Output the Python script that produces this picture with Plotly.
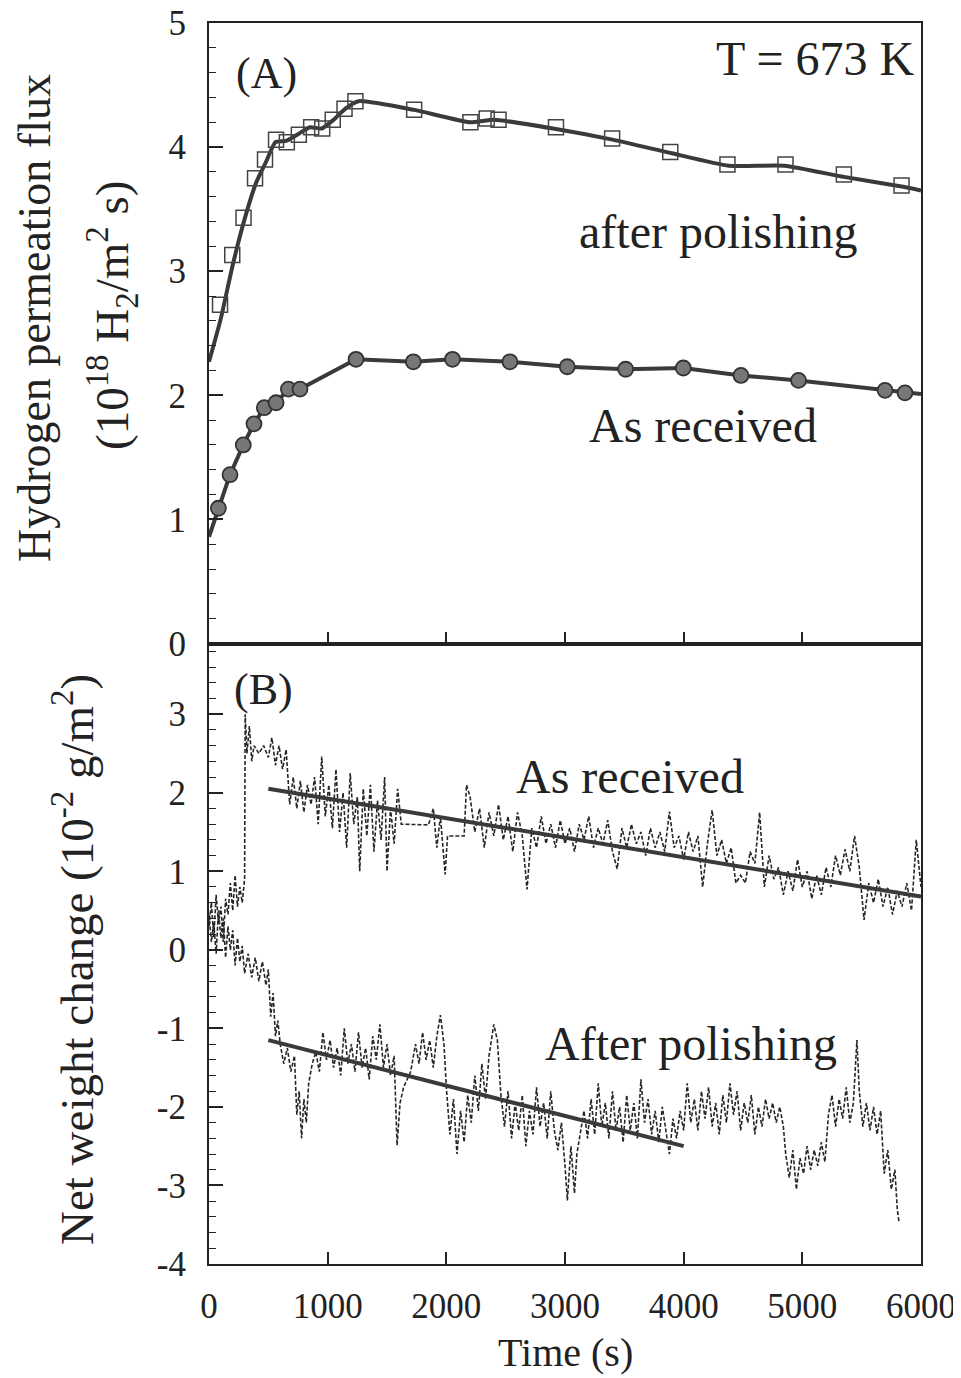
import plotly.graph_objects as go

# ---------------- Panel (A): hydrogen permeation flux ----------------
# after polishing (open squares)
pol_t = [93, 196, 291, 388, 472, 565, 656, 757, 861, 954, 1043, 1142, 1234,
         1729, 2203, 2340, 2440, 2924, 3397, 3887, 4369, 4858, 5350, 5836]
pol_v = [2.73, 3.13, 3.43, 3.75, 3.90, 4.06, 4.04, 4.10, 4.16, 4.15, 4.22, 4.31, 4.37,
         4.30, 4.20, 4.23, 4.22, 4.16, 4.07, 3.96, 3.86, 3.86, 3.78, 3.69]
# fitted curve through the squares
pol_fit_t = [0, 100, 200, 300, 400, 480, 560, 650, 760, 850, 950, 1050, 1150, 1260,
             1730, 2200, 2400, 2900, 3400, 3900, 4380, 4850, 5350, 5850, 6000]
pol_fit_v = [2.27, 2.62, 3.05, 3.42, 3.72, 3.88, 4.04, 4.05, 4.11, 4.16, 4.15, 4.22, 4.31, 4.37,
             4.30, 4.20, 4.22, 4.15, 4.06, 3.95, 3.85, 3.85, 3.76, 3.68, 3.65]

# as received (filled circles)
rec_t = [79, 177, 289, 379, 466, 565, 669, 767, 1239, 1722, 2052,
         2536, 3019, 3511, 3997, 4483, 4968, 5697, 5865]
rec_v = [1.09, 1.36, 1.60, 1.77, 1.90, 1.94, 2.05, 2.05, 2.29, 2.27, 2.29,
         2.27, 2.23, 2.21, 2.22, 2.16, 2.12, 2.04, 2.02]
rec_fit_t = [0, 79, 177, 289, 379, 466, 565, 669, 767, 1239, 1722, 2052,
             2536, 3019, 3511, 3997, 4483, 4968, 5697, 5865, 6000]
rec_fit_v = [0.86, 1.09, 1.36, 1.60, 1.77, 1.90, 1.94, 2.05, 2.05, 2.29, 2.27, 2.29,
             2.27, 2.23, 2.21, 2.22, 2.16, 2.12, 2.04, 2.02, 2.01]

# ---------------- Panel (B): net weight change ----------------
# As received raw signal
wr_t = [0, 20, 40, 60, 80, 100, 120, 140, 160, 180,
        200, 220, 240, 260, 280, 300, 305, 320, 340, 360,
        380, 420, 460, 500, 530, 560, 590, 620, 650, 680,
        710, 740, 770, 800, 830, 860, 890, 920, 950, 980,
        1010, 1040, 1070, 1100, 1130, 1160, 1190, 1220, 1250, 1270,
        1300, 1330, 1360, 1390, 1420, 1450, 1480, 1500, 1530, 1560,
        1590, 1620, 1850, 1890, 1920, 1950, 1990, 2010, 2150, 2170,
        2200, 2240, 2280, 2320, 2360, 2400, 2440, 2480, 2520, 2560,
        2600, 2640, 2680, 2720, 2760, 2800, 2840, 2880, 2920, 2960,
        3000, 3040, 3080, 3120, 3160, 3200, 3240, 3280, 3320, 3360,
        3400, 3440, 3480, 3520, 3560, 3600, 3640, 3680, 3720, 3760,
        3800, 3840, 3880, 3920, 3960, 4000, 4040, 4080, 4120, 4160,
        4200, 4240, 4280, 4320, 4360, 4400, 4440, 4480, 4520, 4560,
        4600, 4640, 4680, 4720, 4760, 4800, 4840, 4880, 4920, 4960,
        5000, 5040, 5080, 5120, 5160, 5200, 5240, 5280, 5320, 5360,
        5400, 5440, 5480, 5520, 5560, 5600, 5640, 5680, 5720, 5760,
        5800, 5840, 5880, 5920, 5960, 6000]
wr_v = [0.30, 0.60, 0.15, 0.70, 0.35, 0.55, 0.10, 0.65, 0.45, 0.85,
        0.50, 0.95, 0.55, 0.80, 0.60, 0.90, 3.00, 2.50, 2.85, 2.40,
        2.60, 2.50, 2.60, 2.45, 2.70, 2.35, 2.60, 2.30, 2.55, 1.85,
        2.20, 1.80, 2.15, 1.75, 2.10, 1.85, 2.20, 1.60, 2.46, 1.70,
        2.10, 1.55, 2.30, 1.50, 2.00, 1.30, 2.25, 1.60, 1.95, 1.00,
        2.05, 1.45, 2.10, 1.25, 1.90, 1.40, 2.20, 1.00, 1.80, 1.35,
        2.05, 1.60, 1.59, 1.80, 1.30, 1.70, 0.96, 1.45, 1.45, 2.10,
        1.95, 1.50, 1.80, 1.30, 1.75, 1.45, 1.85, 1.40, 1.70, 1.25,
        1.75, 1.45, 0.77, 1.55, 1.30, 1.70, 1.35, 1.60, 1.30, 1.65,
        1.35, 1.55, 1.25, 1.60, 1.40, 1.70, 1.30, 1.55, 1.35, 1.65,
        1.25, 1.03, 1.55, 1.30, 1.60, 1.35, 1.50, 1.20, 1.55, 1.30,
        1.50, 1.25, 1.76, 1.30, 1.45, 1.15, 1.50, 1.25, 1.45, 0.80,
        1.35, 1.78, 1.20, 1.40, 1.10, 1.30, 0.85, 0.95, 0.85, 1.25,
        1.10, 1.75, 0.80, 1.20, 0.90, 1.05, 0.70, 1.00, 0.75, 1.15,
        0.80, 1.00, 0.65, 0.95, 0.70, 1.05, 0.80, 1.20, 0.95, 1.28,
        1.00, 1.45, 1.05, 0.38, 0.85, 0.60, 0.90, 0.55, 0.80, 0.45,
        0.75, 0.55, 0.85, 0.50, 1.40, 0.80]

# After polishing raw signal
wp_t = [0, 20, 40, 60, 80, 100, 120, 140, 160, 180,
        200, 220, 240, 260, 280, 300, 330, 360, 390, 420,
        450, 480, 500, 520, 540, 560, 580, 600, 630, 660,
        690, 720, 740, 760, 780, 800, 820, 840, 870, 900,
        930, 960, 990, 1020, 1050, 1080, 1110, 1140, 1170, 1200,
        1230, 1260, 1290, 1320, 1350, 1380, 1410, 1440, 1470, 1500,
        1530, 1560, 1585, 1610, 1640, 1700, 1740, 1770, 1800, 1830,
        1860, 1890, 1920, 1950, 1980, 2000, 2030, 2060, 2090, 2120,
        2150, 2180, 2210, 2240, 2270, 2300, 2330, 2360, 2400, 2430,
        2460, 2490, 2520, 2550, 2580, 2610, 2640, 2670, 2700, 2730,
        2760, 2790, 2820, 2850, 2880, 2910, 2940, 2970, 3000, 3020,
        3050, 3080, 3100, 3130, 3160, 3190, 3220, 3250, 3280, 3310,
        3340, 3370, 3400, 3430, 3460, 3490, 3520, 3550, 3580, 3610,
        3640, 3670, 3700, 3730, 3760, 3790, 3820, 3850, 3880, 3910,
        3940, 3970, 4000, 4030, 4060, 4090, 4120, 4150, 4180, 4210,
        4240, 4270, 4300, 4330, 4360, 4390, 4420, 4450, 4480, 4510,
        4540, 4570, 4600, 4630, 4660, 4690, 4720, 4750, 4780, 4810,
        4840, 4860, 4890, 4920, 4950, 4980, 5010, 5040, 5070, 5100,
        5130, 5160, 5190, 5220, 5250, 5280, 5310, 5340, 5370, 5400,
        5430, 5460, 5480, 5510, 5540, 5570, 5600, 5630, 5660, 5690,
        5720, 5750, 5780, 5800, 5815]
wp_v = [0.45, 0.10, 0.35, -0.05, 0.50, 0.15, 0.40, -0.10, 0.30, 0.00,
        0.25, -0.20, 0.15, -0.15, 0.05, -0.30, -0.05, -0.35, -0.10, -0.40,
        -0.15, -0.45, -0.25, -0.85, -0.55, -1.10, -0.90, -1.20, -1.45, -1.25,
        -1.55, -1.35, -2.10, -1.80, -2.40, -1.90, -2.20, -1.70, -1.45, -1.30,
        -1.55, -1.05, -1.40, -1.15, -1.50, -1.25, -1.60, -1.00, -1.45, -1.20,
        -1.55, -1.05, -1.50, -1.25, -1.65, -1.10, -1.40, -0.95, -1.50, -1.20,
        -1.60, -1.35, -2.49, -1.95, -1.75, -1.55, -1.20, -1.45, -1.05, -1.40,
        -1.15, -1.50, -1.10, -0.83, -1.20, -1.75, -2.35, -1.90, -2.60, -2.05,
        -2.45, -1.85, -2.20, -1.60, -2.05, -1.45, -1.90, -1.35, -0.95, -1.15,
        -1.85, -2.25, -1.80, -2.40, -1.95, -2.30, -1.85, -2.50, -2.05, -2.35,
        -1.75, -2.25, -1.95, -2.40, -1.80, -2.30, -2.55, -2.20, -2.75, -3.19,
        -2.50, -3.10, -2.60, -2.30, -2.05, -2.40, -1.90, -2.35, -1.70, -2.25,
        -1.95, -2.40, -1.80, -2.30, -2.00, -2.45, -1.85, -2.30, -1.95, -2.40,
        -1.65, -2.20, -1.90, -2.35, -2.05, -2.45, -2.00, -2.30, -2.60, -2.15,
        -2.40, -2.05, -2.30, -1.70, -2.20, -1.90, -2.30, -1.80, -2.15, -1.75,
        -2.25, -1.95, -2.35, -1.85, -2.20, -1.70, -2.10, -1.80, -2.30, -1.95,
        -2.20, -1.85, -2.35, -2.00, -2.25, -1.90, -2.15, -1.95, -2.20, -2.00,
        -2.25, -2.60, -2.90, -2.55, -3.05, -2.65, -2.85, -2.50, -2.80, -2.55,
        -2.75, -2.45, -2.70, -2.10, -1.85, -2.25, -1.90, -2.15, -1.75, -2.20,
        -1.95, -1.15, -1.80, -2.25, -1.95, -2.30, -2.00, -2.35, -2.05, -2.85,
        -2.55, -3.05, -2.80, -3.30, -3.47]

# linear fits
wr_fit_t = [500, 6000]
wr_fit_v = [2.05, 0.68]
wp_fit_t = [500, 4000]
wp_fit_v = [-1.15, -2.50]

# tick labels
x_ticks = [0, 1000, 2000, 3000, 4000, 5000, 6000]
yA_ticks = [0, 1, 2, 3, 4, 5]
yB_ticks = [-4, -3, -2, -1, 0, 1, 2, 3]
yB_labels = ["-4", "-3", "-2", "-1", "0", "1", "2", "3"]

# ---------------- figure ----------------
OFF = 8                     # page margin of the html body
W, H = 961 - OFF, 1378 - OFF
# target plot area in page pixels: x 209..921, y 23..1264
ML = 209 - OFF
MR = 961 - 921
MT = 23 - OFF
MB = 1378 - 1264
PW, PH = W - ML - MR, H - MT - MB
FONT = "Liberation Serif, Times New Roman, serif"
INK = "#222222"
LINE = "#3a3a3a"


def P(px, py):
    """page pixel -> paper coordinates"""
    fx, fy = px - OFF, py - OFF
    return (fx - ML) / PW, (H - MB - fy) / PH


fig = go.Figure()

# panel A
fig.add_trace(go.Scatter(x=pol_fit_t, y=pol_fit_v, xaxis="x2", yaxis="y2", mode="lines",
                         line=dict(color=LINE, width=4, shape="spline", smoothing=0.5),
                         showlegend=False))
fig.add_trace(go.Scatter(x=pol_t, y=pol_v, xaxis="x2", yaxis="y2", mode="markers",
                         marker=dict(symbol="square-open", size=15, color="#444444",
                                     line=dict(width=1.5, color="#444444")),
                         showlegend=False))
fig.add_trace(go.Scatter(x=rec_fit_t, y=rec_fit_v, xaxis="x2", yaxis="y2", mode="lines",
                         line=dict(color=LINE, width=4), showlegend=False))
fig.add_trace(go.Scatter(x=rec_t, y=rec_v, xaxis="x2", yaxis="y2", mode="markers",
                         marker=dict(symbol="circle", size=15, color="#777777",
                                     line=dict(width=1.8, color="#333333")),
                         showlegend=False))

# panel B
fig.add_trace(go.Scatter(x=wr_t, y=wr_v, xaxis="x", yaxis="y", mode="lines",
                         line=dict(color="#262626", width=1.6, dash="4px,2px"),
                         showlegend=False))
fig.add_trace(go.Scatter(x=wp_t, y=wp_v, xaxis="x", yaxis="y", mode="lines",
                         line=dict(color="#262626", width=1.6, dash="4px,2px"),
                         showlegend=False))
fig.add_trace(go.Scatter(x=wr_fit_t, y=wr_fit_v, xaxis="x", yaxis="y", mode="lines",
                         line=dict(color=LINE, width=4), showlegend=False))
fig.add_trace(go.Scatter(x=wp_fit_t, y=wp_fit_v, xaxis="x", yaxis="y", mode="lines",
                         line=dict(color=LINE, width=4), showlegend=False))

axis_common = dict(showgrid=False, zeroline=False, showline=True, linecolor=INK, linewidth=2,
                   mirror=True, ticks="inside", tickcolor=INK, tickwidth=1.5,
                   ticklabeloverflow="allow", automargin=False,
                   tickfont=dict(family=FONT, size=35, color=INK))

fig.update_layout(
    width=W, height=H,
    margin=dict(l=ML, r=MR, t=MT, b=MB, autoexpand=False),
    paper_bgcolor="white", plot_bgcolor="white",
    xaxis=dict(domain=[0, 1], anchor="y", range=[0, 6000], tickvals=x_ticks, ticklen=12,
               ticklabelstandoff=10, **axis_common),
    xaxis2=dict(domain=[0, 1], anchor="y2", range=[0, 6000], tickvals=x_ticks, ticklen=12,
                matches="x", showticklabels=False, **axis_common),
    yaxis=dict(domain=[0, 0.5], anchor="x", range=[-4, 3.9], tickvals=yB_ticks,
               ticktext=yB_labels, ticklen=14, ticklabelstandoff=14,
               minor=dict(dtick=0.2, ticks="inside", ticklen=7, tickcolor=INK, tickwidth=1.2),
               **axis_common),
    yaxis2=dict(domain=[0.5, 1], anchor="x2", range=[0, 5], tickvals=yA_ticks, ticklen=14,
                ticklabelstandoff=14,
                minor=dict(dtick=0.2, ticks="inside", ticklen=7, tickcolor=INK, tickwidth=1.2),
                **axis_common),
)


def note(text, px, py, size=48, angle=0, xanchor="center"):
    x, y = P(px, py)
    fig.add_annotation(text=text, x=x, y=y, xref="paper", yref="paper", showarrow=False,
                       xanchor=xanchor, yanchor="middle", textangle=angle, borderpad=0,
                       font=dict(family=FONT, size=size, color=INK))


note("(A)", 266, 73, size=44)
note("T = 673 K", 916, 58, xanchor="right")
note("after polishing", 718, 231)
note("As received", 703, 426)
note("(B)", 263, 690, size=44)
note("As received", 630, 776)
note("After polishing", 691, 1043)
note("Time (s)", 565, 1352, size=40)
note("Hydrogen permeation flux", 35, 318, size=46, angle=-90)
note("(10<sup>18</sup> H<sub>2</sub>/m<sup>2</sup> s)", 112, 316, size=47, angle=-90)
note("Net weight change (10<sup>-2</sup> g/m<sup>2</sup>)", 73, 960, size=47, angle=-90)

fig.write_html("out.html")
